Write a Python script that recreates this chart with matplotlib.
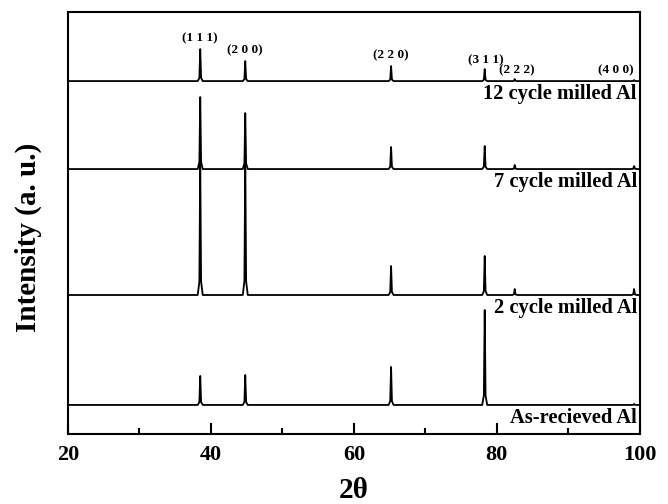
import matplotlib

matplotlib.use("Agg")
import matplotlib.pyplot as plt
import numpy as np

plt.rcParams["font.family"] = ["Liberation Serif", "DejaVu Serif"]
plt.rcParams["font.weight"] = "bold"

# peak positions (2-theta, degrees) and hkl labels
peak_pos = [38.5, 44.8, 65.2, 78.3, 82.5, 99.2]
hkl = ["(1 1 1)", "(2 0 0)", "(2 2 0)", "(3 1 1)", "(2 2 2)", "(4 0 0)"]

# samples, bottom to top; offsets and peak heights in arbitrary units
samples = ["As-recieved Al", "2 cycle milled Al", "7 cycle milled Al", "12 cycle milled Al"]
offsets = [29, 139, 265, 353]
h_asrec = [29, 30, 38, 95, 0, 1]
h_2cyc = [135, 138, 29, 39, 6, 6]
h_7cyc = [72, 56, 22, 23, 4, 3]
h_12cyc = [32, 20, 15, 12, 2, 1]
heights = [h_asrec, h_2cyc, h_7cyc, h_12cyc]

# hkl label placement (x, y) in data units
hkl_x = [38.5, 44.8, 65.2, 78.5, 82.8, 96.6]
hkl_y = [396, 384, 379, 374, 364, 364]


def trace(hs):
    xs, ys = [20.0], [0.0]
    for p, h in zip(peak_pos, hs):
        xs += [p - 0.35, p - 0.12, p, p + 0.12, p + 0.35]
        ys += [0, 0.1 * h, h, 0.1 * h, 0]
    xs.append(100.0)
    ys.append(0.0)
    return np.array(xs), np.array(ys)


fig = plt.figure(figsize=(6.68, 5.04), dpi=100)
ax = fig.add_axes([0.1018, 0.139, 0.856, 0.837])

for name, off, hs in zip(samples, offsets, heights):
    x, y = trace(hs)
    ax.plot(x, y + off, color="black", lw=1.3)
    ax.text(99.6, off - 13, name, ha="right", va="center", fontsize=14.8, fontweight="bold")

for lab, x, y in zip(hkl, hkl_x, hkl_y):
    ax.text(x, y, lab, ha="center", va="center", fontsize=9.5, fontweight="bold")

ax.set_xlim(20, 100)
ax.set_ylim(0, 422)
ax.set_yticks([])
ax.set_xticks([20, 40, 60, 80, 100])
ax.set_xticks([30, 50, 70, 90], minor=True)
ax.tick_params(axis="x", which="major", direction="in", length=8, width=1.5, labelsize=16, pad=8)
ax.tick_params(axis="x", which="minor", direction="in", length=4, width=1.5)
for lbl in ax.get_xticklabels():
    lbl.set_fontweight("bold")
for s in ax.spines.values():
    s.set_linewidth(1.5)

ax.set_xlabel("2θ", fontsize=21, fontweight="bold", va="center")
ax.xaxis.set_label_coords(0.5, -0.135)
ax.set_ylabel("Intensity (a. u.)", fontsize=21, fontweight="bold", va="center")
ax.yaxis.set_label_coords(-0.07, 0.467)

fig.savefig("out.png", dpi=100)
